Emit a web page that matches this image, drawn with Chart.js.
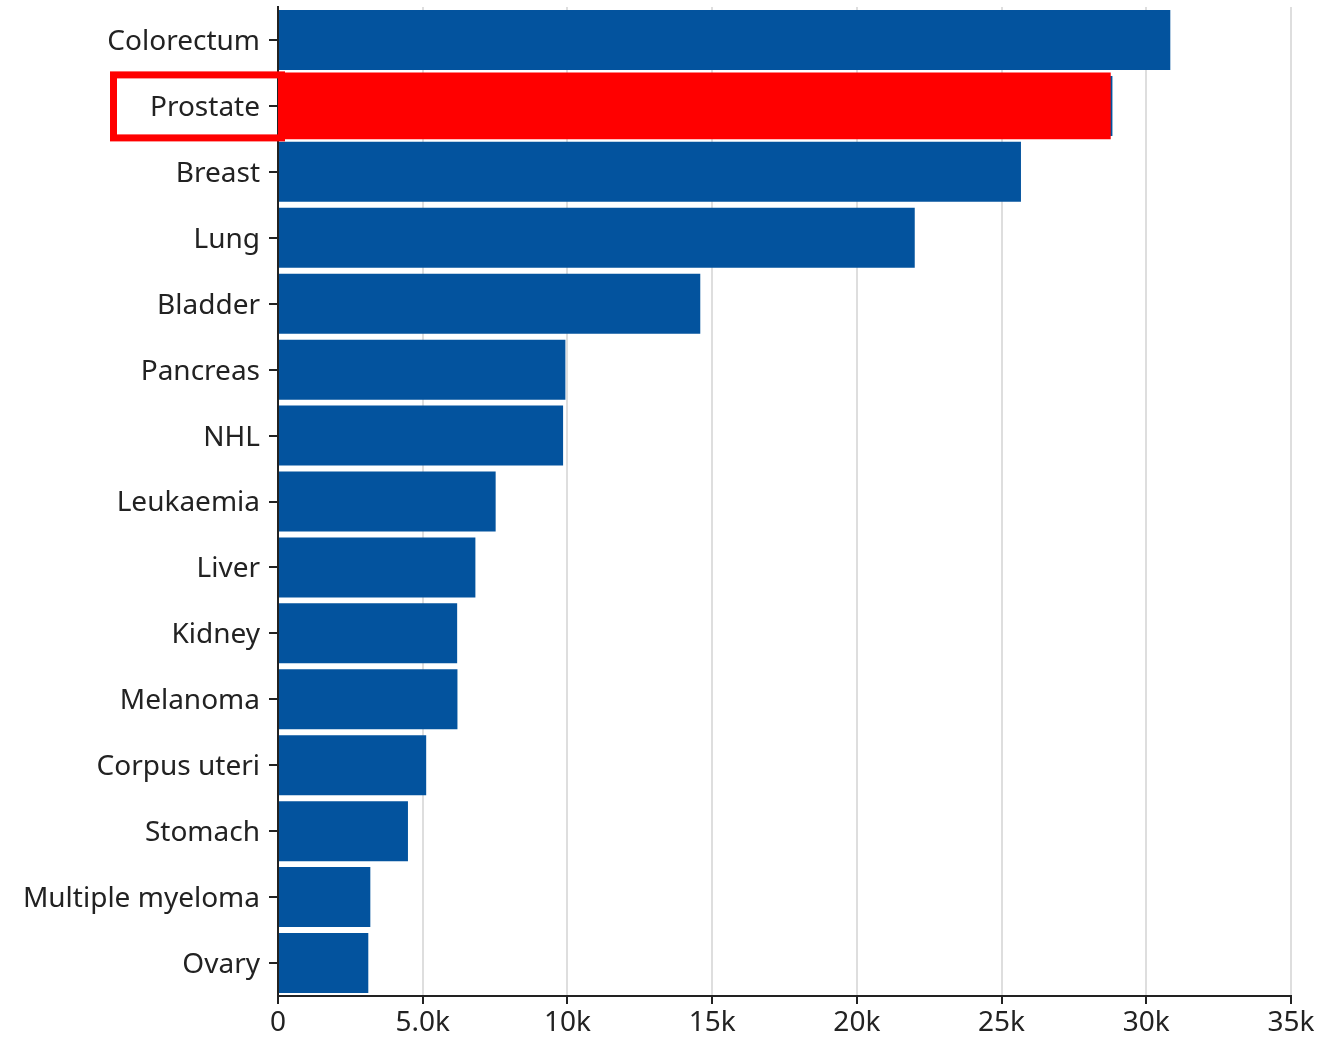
<!DOCTYPE html>
<html>
<head>
<meta charset="utf-8">
<script src="https://cdn.jsdelivr.net/npm/chart.js@4"></script>
<style>
  html, body { margin: 0; padding: 0; background: #fff; }
  #wrap { width: 1342px; height: 1039px; }
</style>
</head>
<body>
<div id="wrap"><canvas id="chart"></canvas></div>
<script>
// cancer sites, top to bottom
const sites = [
  'Colorectum', 'Prostate', 'Breast', 'Lung', 'Bladder', 'Pancreas', 'NHL',
  'Leukaemia', 'Liver', 'Kidney', 'Melanoma', 'Corpus uteri', 'Stomach',
  'Multiple myeloma', 'Ovary',
];
const cases = [
  30830, 28830, 25670, 22000, 14590, 9930, 9850,
  7520, 6820, 6190, 6200, 5120, 4490, 3190, 3120,
];
// highlighted site (drawn in red on top)
const highlight = [null, 28760, null, null, null, null, null, null, null, null, null, null, null, null, null];
const xTickLabels = ['0', '5.0k', '10k', '15k', '20k', '25k', '30k', '35k'];

const blue = '#03539e';
const red = '#ff0000';

// red box round the highlighted label
const labelBox = {
  id: 'labelBox',
  afterDraw(chart) {
    const ctx = chart.ctx;
    const yScale = chart.scales.y;
    const left = chart.chartArea.left;
    const yc = yScale.getPixelForValue(1);
    ctx.save();
    ctx.strokeStyle = red;
    ctx.lineWidth = 7;
    ctx.strokeRect(left - 164.5, yc - 31, 168, 63);
    ctx.restore();
  }
};

Chart.defaults.font.family = '"Noto Sans", "Open Sans", sans-serif';
Chart.defaults.font.size = 28;
Chart.defaults.color = '#222';

new Chart(document.getElementById('chart'), {
  type: 'bar',
  data: {
    labels: sites,
    datasets: [
      {
        data: highlight,
        backgroundColor: red,
        barPercentage: 1.0,
        categoryPercentage: 1.0,
      },
      {
        data: cases,
        backgroundColor: blue,
        barPercentage: 0.91,
        categoryPercentage: 1.0,
      },
    ],
  },
  options: {
    indexAxis: 'y',
    responsive: true,
    maintainAspectRatio: false,
    animation: false,
    layout: { padding: { top: 7, right: 51, bottom: 0, left: 0 } },
    plugins: {
      legend: { display: false },
      tooltip: { enabled: false },
    },
    scales: {
      x: {
        stacked: false,
        min: 0,
        max: 35000,
        ticks: {
          stepSize: 5000,
          padding: 2,
          callback: (v, i) => xTickLabels[i],
        },
        grid: {
          color: '#dedede',
          lineWidth: 2,
          tickColor: '#222',
          tickLength: 8,
        },
        border: { color: '#222', width: 2 },
        afterFit: (scale) => { scale.height = 43; },
      },
      y: {
        stacked: true,
        ticks: { padding: 9, labelOffset: 2 },
        grid: {
          offset: false,
          drawOnChartArea: false,
          tickColor: '#222',
          tickLength: 9,
          lineWidth: 2,
        },
        border: { color: '#222', width: 2 },
        afterFit: (scale) => {
          scale.width = 278;
          scale.paddingTop = 0;
          scale.paddingBottom = 0;
        },
      },
    },
  },
  plugins: [labelBox],
});
</script>
</body>
</html>
